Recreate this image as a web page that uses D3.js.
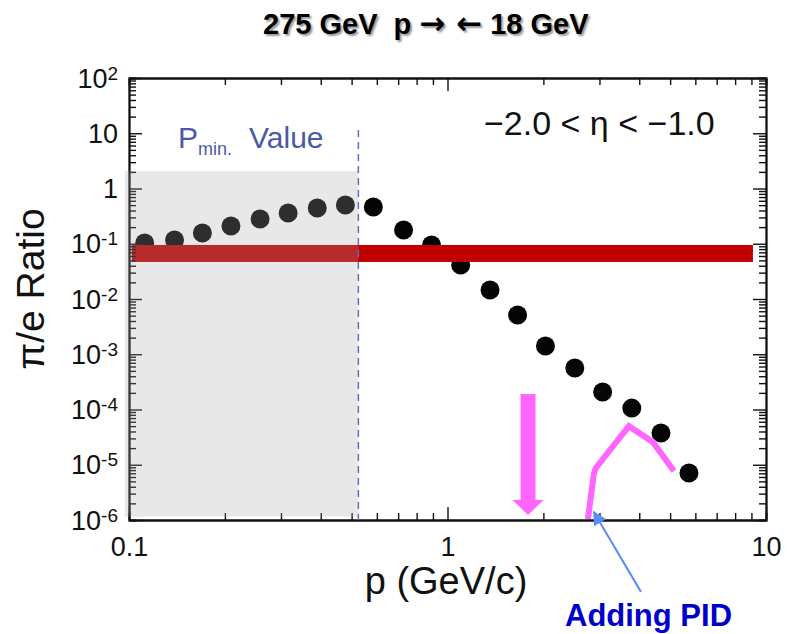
<!DOCTYPE html>
<html>
<head>
<meta charset="utf-8">
<script src="https://cdn.jsdelivr.net/npm/d3@7"></script>
<style>
  body { margin: 0; background: #fff; }
  svg { font-family: "Liberation Sans", Arial, Helvetica, sans-serif; }
  .tick line { stroke: #111; stroke-width: 1.4; }
  .domain { stroke: #111; stroke-width: 1.8; }
  .title { white-space: pre; }
</style>
</head>
<body>
<div id="vis-svg"></div>
<script>
// pi/e ratio vs momentum
var pVals = [0.112, 0.139, 0.170, 0.209, 0.258, 0.316, 0.390, 0.478, 0.585, 0.728,
             0.891, 1.10, 1.36, 1.66, 2.03, 2.51, 3.07, 3.79, 4.68, 5.73];
var ratioVals = [0.103, 0.117, 0.157, 0.210, 0.281, 0.360, 0.444, 0.503, 0.462, 0.177,
                 0.0949, 0.0412, 0.0146, 0.00513, 0.00141, 5.64e-4, 2.07e-4, 1.06e-4, 3.76e-5, 7.1e-6];

// red band level and extent
var bandLevel = 0.0667;
var bandRange = [0.102, 9.1];

// p_min cut and shaded region
var pMin = 0.525;
var shadeP = [0.097, pMin];
var shadeRatio = [1.15e-6, 2.07];
var cutTop = 11.5;

// "adding PID" curve
var pidP = [2.76, 2.88, 2.92, 3.71, 4.41, 5.14];
var pidRatio = [1.04e-6, 6.8e-6, 8.7e-6, 5.0e-5, 2.58e-5, 7.7e-6];

// pink arrow: position, top, tip
var arrowP = 1.79;
var arrowRatio = [1.9e-4, 1.23e-6];

// blue annotation arrow: tail and tip
var noteP = [4.05, 2.88];
var noteRatio = [5e-8, 1.4e-6];

var xMajor = [0.1, 1, 10];
var xMinor = [0.2, 0.3, 0.4, 0.5, 0.6, 0.7, 0.8, 0.9, 2, 3, 4, 5, 6, 7, 8, 9];
var yMajor = [1e-6, 1e-5, 1e-4, 1e-3, 1e-2, 1e-1, 1, 10, 100];
var yMinor = [];
for (var e = -6; e < 2; e++) {
  for (var m = 2; m <= 9; m++) yMinor.push(m * Math.pow(10, e));
}

var width = 787;
var height = 634;

var svg = d3.select("#vis-svg")
  .append("svg")
  .attr("width", width)
  .attr("height", height);

var x = d3.scaleLog().domain([0.1, 10]).range([129, 766]);
var y = d3.scaleLog().domain([1e-6, 1e2]).range([520, 78]);

// title
var title = svg.append("text")
  .attr("class", "title")
  .attr("x", 263).attr("y", 34)
  .attr("font-size", 29).attr("font-weight", "bold")
  .style("text-shadow", "2px 2px 2px #999");
title.append("tspan").text("275 GeV  p ");
title.append("tspan").attr("font-family", "DejaVu Sans").attr("font-size", 31).text("\u2192 \u2190");
title.append("tspan").text(" 18 GeV");

// points
svg.append("g")
  .selectAll("circle")
  .data(pVals)
  .enter()
  .append("circle")
  .attr("cx", function(d) { return x(d); })
  .attr("cy", function(d, i) { return y(ratioVals[i]); })
  .attr("r", 9.5)
  .attr("fill", "#050505");

// red band
svg.append("rect")
  .attr("x", x(bandRange[0]))
  .attr("width", x(bandRange[1]) - x(bandRange[0]))
  .attr("y", y(bandLevel) - 8.5)
  .attr("height", 17)
  .attr("fill", "#c00000");

// pink arrow
var ax = x(arrowP);
var headY = y(arrowRatio[1]);
svg.append("path")
  .attr("d", "M" + (ax - 7.5) + "," + y(arrowRatio[0]) +
    "L" + (ax + 7.5) + "," + y(arrowRatio[0]) +
    "L" + (ax + 7.5) + "," + (headY - 15) +
    "L" + (ax + 15.5) + "," + (headY - 15) +
    "L" + ax + "," + headY +
    "L" + (ax - 15.5) + "," + (headY - 15) +
    "L" + (ax - 7.5) + "," + (headY - 15) + "Z")
  .attr("fill", "#ff66ff");

// pid curve
var line = d3.line()
  .x(function(d) { return x(d); })
  .y(function(d, i) { return y(pidRatio[i]); });
svg.append("path")
  .attr("d", line(pidP))
  .attr("fill", "none")
  .attr("stroke", "#ff66ff")
  .attr("stroke-width", 6);

// axes
function axisGroup(tr) {
  return svg.append("g").attr("transform", tr);
}
var x0 = x.range()[0], x1 = x.range()[1];
var y0 = y.range()[0], y1 = y.range()[1];

axisGroup("translate(0," + y0 + ")")
  .call(d3.axisBottom(x).tickValues(xMinor).tickSize(-7).tickFormat(""));
axisGroup("translate(0," + y0 + ")")
  .call(d3.axisBottom(x).tickValues(xMajor).tickSize(-13).tickSizeOuter(0).tickPadding(17)
    .tickFormat(function(d) { return d < 1 ? "0.1" : d3.format("d")(d); }))
  .selectAll("text").attr("font-size", 27).attr("fill", "#111");
axisGroup("translate(0," + y1 + ")")
  .call(d3.axisTop(x).tickValues(xMinor).tickSize(-7).tickFormat(""));
axisGroup("translate(0," + y1 + ")")
  .call(d3.axisTop(x).tickValues(xMajor).tickSize(-13).tickSizeOuter(0).tickFormat(""));

axisGroup("translate(" + x0 + ",0)")
  .call(d3.axisLeft(y).tickValues(yMinor).tickSize(-7).tickFormat(""));
axisGroup("translate(" + x0 + ",0)")
  .call(d3.axisLeft(y).tickValues(yMajor).tickSize(-13).tickSizeOuter(0).tickFormat(""));
axisGroup("translate(" + x1 + ",0)")
  .call(d3.axisRight(y).tickValues(yMinor).tickSize(-7).tickFormat(""));
axisGroup("translate(" + x1 + ",0)")
  .call(d3.axisRight(y).tickValues(yMajor).tickSize(-13).tickSizeOuter(0).tickFormat(""));

// y tick labels with exponents
var ylab = svg.append("g")
  .selectAll("text")
  .data(yMajor)
  .enter()
  .append("text")
  .attr("x", 118)
  .attr("y", function(d) { return y(d); })
  .attr("dy", "0.36em")
  .attr("text-anchor", "end")
  .attr("font-size", 27)
  .attr("fill", "#111");
ylab.each(function(d) {
  var t = d3.select(this);
  var ex = Math.round(Math.log10(d));
  if (ex === 0) { t.text("1"); return; }
  if (ex === 1) { t.text("10"); return; }
  t.append("tspan").text("10");
  t.append("tspan").attr("dy", "-0.42em").attr("font-size", 19).text(ex);
});

// axis titles
svg.append("text")
  .attr("x", 446).attr("y", 594)
  .attr("text-anchor", "middle")
  .attr("font-size", 38)
  .attr("fill", "#111")
  .text("p (GeV/c)");
svg.append("text")
  .attr("transform", "translate(44,289) rotate(-90)")
  .attr("text-anchor", "middle")
  .attr("font-size", 39)
  .attr("fill", "#111")
  .text("\u03c0/e Ratio");

// shaded p < p_min region
svg.append("rect")
  .attr("x", x(shadeP[0]))
  .attr("width", x(shadeP[1]) - x(shadeP[0]))
  .attr("y", y(shadeRatio[1]))
  .attr("height", y(shadeRatio[0]) - y(shadeRatio[1]))
  .attr("fill", "rgb(165,165,165)")
  .attr("opacity", 0.26);

// p_min line
svg.append("line")
  .attr("x1", x(pMin)).attr("x2", x(pMin))
  .attr("y1", y(cutTop)).attr("y2", y0)
  .attr("stroke", "#5a72c4")
  .attr("stroke-width", 1.5)
  .attr("stroke-dasharray", "7,5");

var pm = svg.append("text")
  .attr("x", 178).attr("y", 148)
  .attr("font-size", 30)
  .attr("fill", "#4b5aa8");
pm.append("tspan").text("P");
pm.append("tspan").attr("dy", 7).attr("font-size", 18).text("min.");
pm.append("tspan").attr("dy", -7).attr("dx", 17).text("Value");

svg.append("text")
  .attr("x", 484).attr("y", 135)
  .attr("font-size", 34)
  .attr("fill", "#111")
  .text("\u22122.0 < \u03b7 < \u22121.0");

// annotation
svg.append("defs").append("marker")
  .attr("id", "tip")
  .attr("viewBox", "0 0 10 10")
  .attr("refX", 9).attr("refY", 5)
  .attr("markerWidth", 7).attr("markerHeight", 7)
  .attr("orient", "auto")
  .append("path")
  .attr("d", "M0,0L10,5L0,10Z")
  .attr("fill", "#5b8ef5");
svg.append("line")
  .attr("x1", x(noteP[0])).attr("y1", y(noteRatio[0]))
  .attr("x2", x(noteP[1])).attr("y2", y(noteRatio[1]))
  .attr("stroke", "#5b8ef5")
  .attr("stroke-width", 2)
  .attr("marker-end", "url(#tip)");
svg.append("text")
  .attr("x", 565).attr("y", 626)
  .attr("font-size", 31).attr("font-weight", "bold")
  .attr("fill", "#0000cc")
  .text("Adding PID");
</script>
</body>
</html>
